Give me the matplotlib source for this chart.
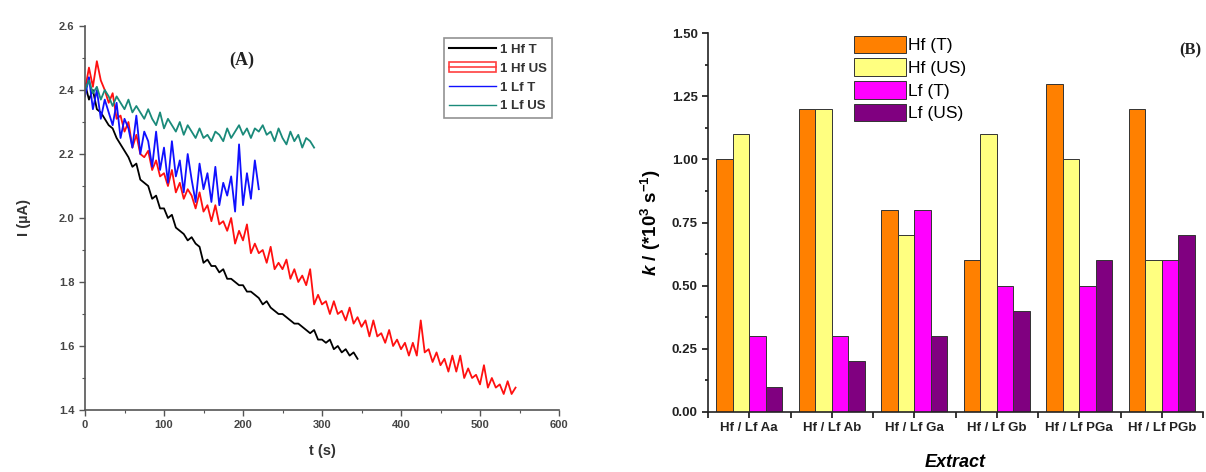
import matplotlib
matplotlib.use("Agg")
import matplotlib.pyplot as plt
from matplotlib.lines import Line2D
from matplotlib.patches import Rectangle
import numpy as np

plt.rcParams['font.family'] = ['Liberation Sans', 'DejaVu Sans']
plt.rcParams['mathtext.fontset'] = 'custom'
plt.rcParams['mathtext.rm'] = 'Liberation Sans:bold'
plt.rcParams['mathtext.it'] = 'Liberation Sans:italic:bold'
plt.rcParams['mathtext.bf'] = 'Liberation Sans:bold'

# ---- Panel A: chronoamperometry, current vs time (5 s sampling) ----
dt = 5
hf_t = [2.42, 2.37, 2.40, 2.34, 2.33, 2.31, 2.29, 2.28, 2.25, 2.23,
        2.21, 2.19, 2.16, 2.17, 2.12, 2.11, 2.10, 2.06, 2.07, 2.03,
        2.03, 2.00, 2.01, 1.97, 1.96, 1.95, 1.93, 1.94, 1.92, 1.91,
        1.86, 1.87, 1.85, 1.85, 1.83, 1.84, 1.81, 1.81, 1.80, 1.79,
        1.79, 1.77, 1.77, 1.76, 1.75, 1.73, 1.74, 1.72, 1.71, 1.70,
        1.70, 1.69, 1.68, 1.67, 1.67, 1.66, 1.65, 1.64, 1.65, 1.62,
        1.62, 1.61, 1.62, 1.59, 1.60, 1.58, 1.59, 1.57, 1.58, 1.56]
hf_us = [2.40, 2.47, 2.41, 2.49, 2.43, 2.40, 2.36, 2.39, 2.31, 2.32,
         2.27, 2.30, 2.22, 2.26, 2.20, 2.19, 2.21, 2.15, 2.18, 2.13,
         2.14, 2.10, 2.15, 2.08, 2.11, 2.06, 2.09, 2.07, 2.03, 2.08,
         2.02, 2.04, 1.99, 2.04, 1.98, 1.99, 1.96, 2.00, 1.92, 1.96,
         1.93, 1.98, 1.89, 1.92, 1.89, 1.90, 1.86, 1.91, 1.84, 1.86,
         1.84, 1.87, 1.81, 1.84, 1.80, 1.82, 1.79, 1.84, 1.73, 1.76,
         1.73, 1.74, 1.70, 1.74, 1.70, 1.71, 1.68, 1.72, 1.67, 1.69,
         1.66, 1.68, 1.63, 1.68, 1.63, 1.64, 1.61, 1.65, 1.60, 1.62,
         1.59, 1.61, 1.57, 1.61, 1.57, 1.68, 1.58, 1.59, 1.55, 1.58,
         1.54, 1.56, 1.52, 1.57, 1.52, 1.57, 1.50, 1.53, 1.50, 1.51,
         1.48, 1.54, 1.47, 1.50, 1.47, 1.48, 1.45, 1.49, 1.45, 1.47]
lf_t = [2.38, 2.44, 2.34, 2.40, 2.31, 2.37, 2.33, 2.29, 2.36, 2.25,
        2.31, 2.28, 2.22, 2.32, 2.20, 2.27, 2.24, 2.16, 2.27, 2.15,
        2.22, 2.11, 2.24, 2.13, 2.18, 2.08, 2.20, 2.12, 2.05, 2.17,
        2.09, 2.14, 2.05, 2.16, 2.04, 2.11, 2.07, 2.13, 2.02, 2.23,
        2.04, 2.14, 2.06, 2.18, 2.09]
lf_us = [2.40, 2.43, 2.39, 2.41, 2.37, 2.40, 2.38, 2.35, 2.38, 2.36,
         2.34, 2.37, 2.33, 2.35, 2.33, 2.31, 2.34, 2.31, 2.29, 2.33,
         2.28, 2.31, 2.29, 2.27, 2.30, 2.26, 2.29, 2.27, 2.25, 2.28,
         2.25, 2.26, 2.24, 2.27, 2.26, 2.24, 2.28, 2.25, 2.27, 2.29,
         2.26, 2.28, 2.25, 2.28, 2.27, 2.29, 2.26, 2.27, 2.24, 2.28,
         2.25, 2.23, 2.27, 2.24, 2.26, 2.22, 2.25, 2.24, 2.22]

series_a = [("1 Hf T", hf_t, "black"),
            ("1 Hf US", hf_us, "#ff1010"),
            ("1 Lf T", lf_t, "#1010ff"),
            ("1 Lf US", lf_us, "#1a8a7a")]

# ---- Panel B: rate constants per extract ----
extracts = ["Hf / Lf Aa", "Hf / Lf Ab", "Hf / Lf Ga",
            "Hf / Lf Gb", "Hf / Lf PGa", "Hf / Lf PGb"]
k_hf_t = [1.0, 1.2, 0.8, 0.6, 1.3, 1.2]
k_hf_us = [1.1, 1.2, 0.7, 1.1, 1.0, 0.6]
k_lf_t = [0.3, 0.3, 0.8, 0.5, 0.5, 0.6]
k_lf_us = [0.1, 0.2, 0.3, 0.4, 0.6, 0.7]
bar_labels = ["Hf (T)", "Hf (US)", "Lf (T)", "Lf (US)"]
bar_colors = ["#ff8000", "#ffff80", "#ff00ff", "#800080"]

W, H = 1206, 472
fig = plt.figure(figsize=(W / 100, H / 100), dpi=100)

def frac(l, b, r, t):
    return [l / W, 1 - b / H, (r - l) / W, (b - t) / H]

# ----- Panel A -----
axA = fig.add_axes(frac(85, 410, 559, 26))
for name, vals, col in series_a:
    t = np.arange(len(vals)) * dt
    axA.plot(t, vals, color=col, lw=1.3, label=name)
axA.set_xlim(0, 600)
axA.set_ylim(1.4, 2.6)
axA.set_xticks(np.arange(0, 601, 100))
axA.set_xticks(np.arange(0, 601, 50), minor=True)
axA.set_yticks(np.arange(1.4, 2.61, 0.2))
axA.set_yticks(np.arange(1.4, 2.61, 0.1), minor=True)
axA.set_yticklabels([f"{v:.1f}" for v in np.arange(1.4, 2.61, 0.2)])
for s in ("top", "right"):
    axA.spines[s].set_visible(False)
for s in ("left", "bottom"):
    axA.spines[s].set_color("#555555")
    axA.spines[s].set_linewidth(1.2)
axA.tick_params(which="major", direction="out", length=4, width=1,
                colors="#555555", labelsize=8, labelcolor="#444444")
axA.tick_params(which="minor", direction="out", length=2, width=0.8,
                colors="#555555")
for lab in axA.get_xticklabels() + axA.get_yticklabels():
    lab.set_fontweight("bold")
axA.set_xlabel("t (s)", fontsize=10.5, fontweight="bold", color="#333333",
               labelpad=10)
axA.set_ylabel("I (µA)", fontsize=10.5, fontweight="bold", color="#333333",
               labelpad=20)
axA.text(0.33, 0.91, "(A)", transform=axA.transAxes, fontsize=13,
         fontweight="bold", family="Liberation Serif", ha="center",
         va="center", color="#222222")

hA = [Line2D([], [], color="black", lw=1.5),
      (Rectangle((0, 0), 1, 1, facecolor="white", edgecolor="#ff4040", lw=1.2),
       Line2D([], [], color="#ff4040", lw=1.2)),
      Line2D([], [], color="#1010ff", lw=1),
      Line2D([], [], color="#1a8a7a", lw=1)]
legA = axA.legend(hA, [s[0] for s in series_a], loc="upper right",
                  bbox_to_anchor=(1.0, 0.985),
                  prop={"weight": "bold", "size": 9.5}, frameon=True,
                  fancybox=False, edgecolor="#777777", handlelength=3.6,
                  handletextpad=0.3, labelspacing=0.5, borderpad=0.4)
legA.get_frame().set_linewidth(1.2)
for txt in legA.get_texts():
    txt.set_color("#333333")

# ----- Panel B -----
axB = fig.add_axes(frac(708, 412, 1203, 33))
x = np.arange(1, len(extracts) + 1)
bw = 0.2
for i, (vals, lab, col) in enumerate(zip([k_hf_t, k_hf_us, k_lf_t, k_lf_us],
                                         bar_labels, bar_colors)):
    axB.bar(x - 0.3 + i * bw, vals, width=bw, color=col, edgecolor="#333333",
            linewidth=0.7, label=lab)
axB.set_xlim(0.5, len(extracts) + 0.5)
axB.set_ylim(0, 1.5)
axB.set_xticks(x)
axB.set_xticklabels(extracts)
axB.set_xticks(np.arange(0.5, len(extracts) + 0.51, 0.5), minor=True)
axB.set_yticks(np.arange(0, 1.51, 0.25))
axB.set_yticklabels([f"{v:.2f}" for v in np.arange(0, 1.51, 0.25)])
axB.set_yticks(np.arange(0, 1.51, 0.125), minor=True)
for s in ("top", "right"):
    axB.spines[s].set_visible(False)
for s in ("left", "bottom"):
    axB.spines[s].set_linewidth(1.2)
    axB.spines[s].set_color("#222222")
axB.tick_params(which="major", direction="out", length=4, width=1.1,
                labelsize=9.5)
axB.tick_params(which="minor", direction="out", length=4, width=1.1)
axB.tick_params(axis="y", which="minor", length=2.5)
for lab in axB.get_xticklabels() + axB.get_yticklabels():
    lab.set_fontweight("bold")
    lab.set_color("#222222")
axB.set_xlabel("Extract", fontsize=13, fontweight="bold", style="italic",
               labelpad=14)
axB.set_ylabel(r"$k$ / (*10$^{3}$ s$^{-1}$)", fontsize=13.5,
               fontweight="bold", labelpad=6)
axB.text(0.975, 0.955, "(B)", transform=axB.transAxes, fontsize=12,
         fontweight="bold", family="Liberation Serif", ha="center",
         va="center", color="#222222")
axB.legend(loc="upper left", bbox_to_anchor=(0.27, 1.025), fontsize=12.5,
           frameon=False, handlelength=3.0, handleheight=1.2,
           handletextpad=0.15, labelspacing=0.28, borderpad=0.2)

fig.savefig("out.png", dpi=100)
